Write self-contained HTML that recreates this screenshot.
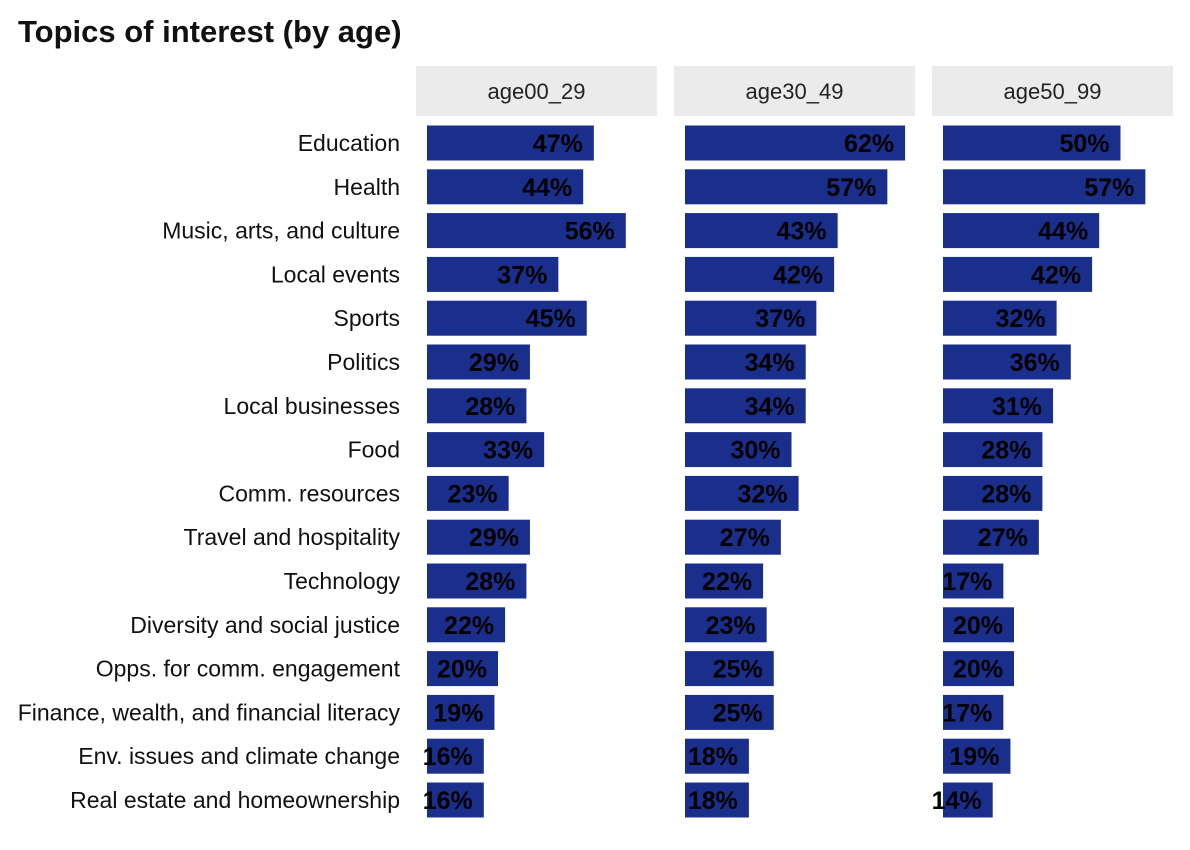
<!DOCTYPE html>
<html><head><meta charset="utf-8">
<style>
body{margin:0;background:#fff;}
svg{display:block;font-family:"Liberation Sans",sans-serif;}
</style></head>
<body>
<svg id="chart" width="1190" height="850" viewBox="0 0 1190 850">
<text x="18" y="42" font-size="31" font-weight="bold" fill="#111">Topics of interest (by age)</text>
<g id="plot"></g>
</svg>
<script>
const categories=["Education","Health","Music, arts, and culture","Local events","Sports","Politics","Local businesses","Food","Comm. resources","Travel and hospitality","Technology","Diversity and social justice","Opps. for comm. engagement","Finance, wealth, and financial literacy","Env. issues and climate change","Real estate and homeownership"];
const panels=["age00_29","age30_49","age50_99"];
const age00_29=[47,44,56,37,45,29,28,33,23,29,28,22,20,19,16,16];
const age30_49=[62,57,43,42,37,34,34,30,32,27,22,23,25,25,18,18];
const age50_99=[50,57,44,42,32,36,31,28,28,27,17,20,20,17,19,14];
const series=[age00_29,age30_49,age50_99];

const NS="http://www.w3.org/2000/svg";
const g=document.getElementById('plot');
const panelX=[416,674,932], panelW=241, pxPer=3.55, barOff=11;
function xs(p,v){return panelX[p]+barOff+v*pxPer;}
function ys(i){return 143+i*43.8;}
function mk(tag,attrs,txt){const e=document.createElementNS(NS,tag);for(const k in attrs)e.setAttribute(k,attrs[k]);if(txt!==undefined)e.textContent=txt;g.appendChild(e);return e;}

categories.forEach((c,i)=>{
  const t=mk('text',{x:400,y:ys(i)+8,'text-anchor':'end','font-size':23,fill:'#111'},c);
  
  
});
panels.forEach((p,pi)=>{
  const r=mk('rect',{x:panelX[pi],y:66,width:panelW,height:50,fill:'#ebebeb'});
  
  
  const t=mk('text',{x:panelX[pi]+panelW/2,y:99,'text-anchor':'middle','font-size':22,fill:'#222'},p);
  
  
  series[pi].forEach((v,i)=>{
    const x0=xs(pi,0),x1=xs(pi,v);
    const b=mk('rect',{x:x0,y:ys(i)-17.5,width:x1-x0,height:35,fill:'#1a2e8c'});
    
    
    const l=mk('text',{x:x1-11,y:ys(i)+9,'text-anchor':'end','font-size':25,'font-weight':'bold',fill:'#000'},v+'%');
    
    
  });
});
</script>
</body></html>
